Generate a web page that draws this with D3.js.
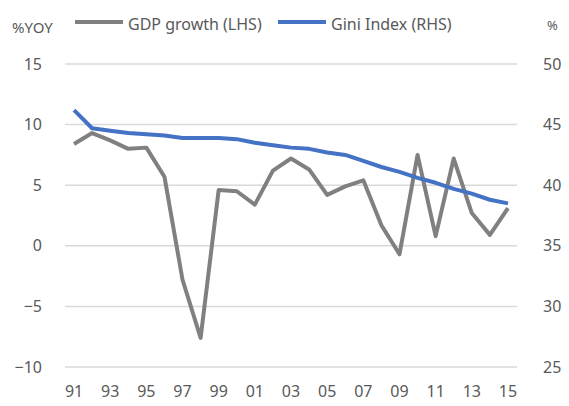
<!DOCTYPE html>
<html><head><meta charset="utf-8">
<script src="https://cdn.jsdelivr.net/npm/d3@7"></script>
<style>body{margin:0;background:#fff}svg{display:block}text{font-family:"Noto Sans","Open Sans",sans-serif;fill:#595959}</style>
</head><body>
<script>
const years = ["91","92","93","94","95","96","97","98","99","00","01","02","03","04","05","06","07","08","09","10","11","12","13","14","15"];
const gdpGrowth = [8.4,9.3,8.7,8.0,8.1,5.7,-2.8,-7.6,4.6,4.5,3.4,6.2,7.2,6.3,4.2,4.9,5.4,1.7,-0.7,7.5,0.8,7.2,2.7,0.9,3.1];
const giniIndex = [46.2,44.7,44.5,44.3,44.2,44.1,43.9,43.9,43.9,43.8,43.5,43.3,43.1,43.0,42.7,42.5,42.0,41.5,41.1,40.6,40.2,39.7,39.3,38.8,38.5];
const leftTicks = [-10,-5,0,5,10,15];
const rightTicks = [25,30,35,40,45,50];
const xTickLabels = ["91","93","95","97","99","01","03","05","07","09","11","13","15"];
const legendItems = [{name:"GDP growth (LHS)",color:"#808080"},{name:"Gini Index (RHS)",color:"#4472C4"}];

const W=569,H=406;
const svg=d3.select("body").append("svg").attr("width",W).attr("height",H);
const x=d3.scaleBand().domain(years).range([65,517]);
const yL=d3.scaleLinear().domain([-10,15]).range([367,64]);
const yR=d3.scaleLinear().domain([25,50]).range([367,64]);
const cx=d=>x(d)+x.bandwidth()/2;

// gridlines
svg.append("g").selectAll("line").data(leftTicks).join("line")
 .attr("x1",65).attr("x2",517).attr("y1",d=>yL(d)).attr("y2",d=>yL(d))
 .attr("stroke","#d9d9d9").attr("stroke-width",1.5);

// left axis
const la=svg.append("g").attr("transform","translate(42,0)")
 .call(d3.axisLeft(yL).tickValues(leftTicks).tickSize(0).tickPadding(0));
la.select(".domain").remove();
la.selectAll("text").attr("font-size",16).attr("fill","#595959").style("font-family","'Noto Sans',sans-serif");

// right axis
const ra=svg.append("g").attr("transform","translate(543,0)")
 .call(d3.axisRight(yR).tickValues(rightTicks).tickSize(0).tickPadding(0));
ra.select(".domain").remove();
ra.selectAll("text").attr("font-size",16).attr("fill","#595959").style("font-family","'Noto Sans',sans-serif");

// bottom axis
const ba=svg.append("g").attr("transform","translate(0,386)")
 .call(d3.axisBottom(x).tickValues(xTickLabels).tickSize(0).tickPadding(0));
ba.select(".domain").remove();
ba.selectAll("text").attr("font-size",16).attr("fill","#595959").style("font-family","'Noto Sans',sans-serif");

// lines
const lineL=d3.line().x((d,i)=>cx(years[i])).y(d=>yL(d));
const lineR=d3.line().x((d,i)=>cx(years[i])).y(d=>yR(d));
svg.append("path").datum(gdpGrowth).attr("d",lineL).attr("fill","none")
 .attr("stroke","#808080").attr("stroke-width",4).attr("stroke-linejoin","round");
svg.append("path").datum(giniIndex).attr("d",lineR).attr("fill","none")
 .attr("stroke","#4472C4").attr("stroke-width",4).attr("stroke-linejoin","round");

// axis titles
svg.append("text").attr("x",12).attr("y",33).attr("font-size",15).text("%YOY");
svg.append("text").attr("x",547).attr("y",30).attr("font-size",13).text("%");

// legend
const lx=[75,278];
legendItems.forEach((it,i)=>{
 svg.append("line").attr("x1",lx[i]).attr("x2",lx[i]+48).attr("y1",22).attr("y2",22)
  .attr("stroke",it.color).attr("stroke-width",4);
 svg.append("text").attr("x",lx[i]+53).attr("y",30).attr("font-size",16).text(it.name);
});
</script>
</body></html>
